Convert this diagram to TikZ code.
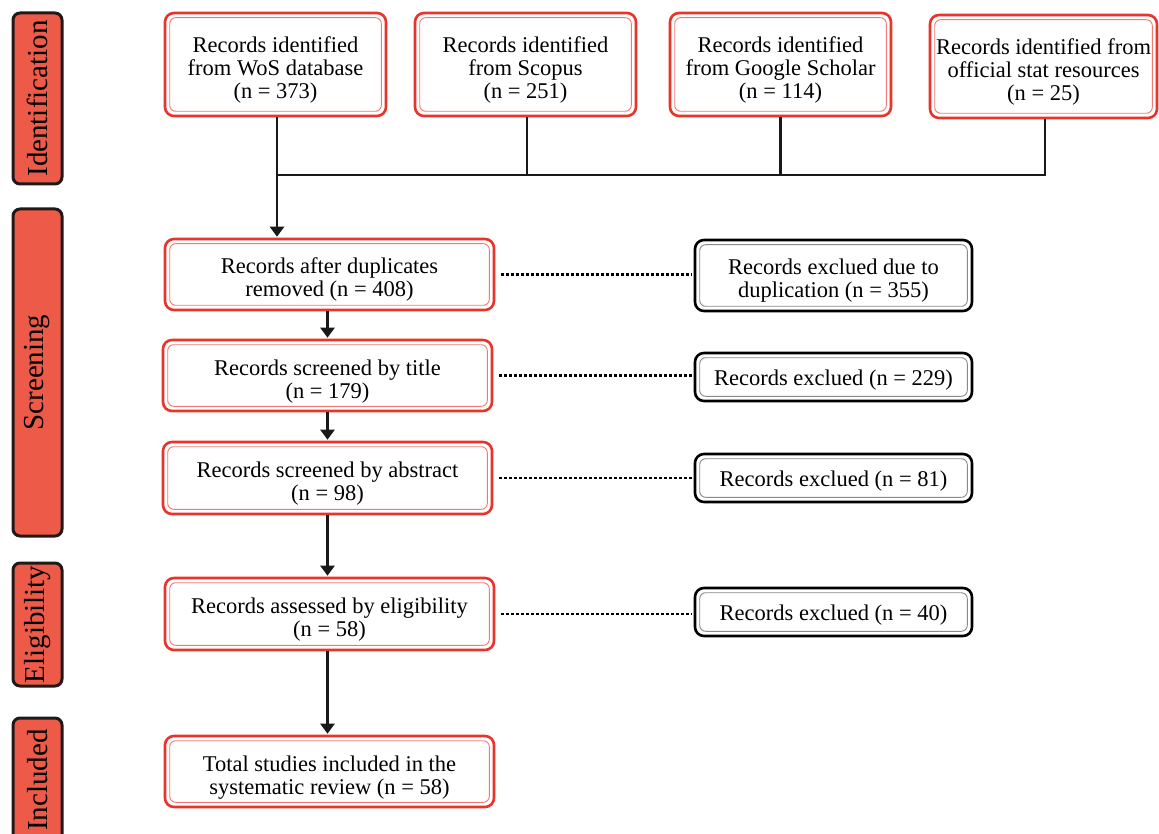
\documentclass[tikz,border=0pt]{standalone}
\usepackage{fontspec}
\setmainfont{Liberation Serif}
\usetikzlibrary{arrows.meta,calc}
\definecolor{boxred}{HTML}{E8352B}
\definecolor{innerred}{HTML}{F07A72}
\definecolor{phasefill}{HTML}{EE5A48}
\definecolor{phaseline}{HTML}{1E1A1A}
\definecolor{innergray}{HTML}{8A8A8A}
\tikzset{
  redbox/.style={draw=boxred, line width=2.6pt, rounded corners=9pt, fill=white, align=center,
    inner sep=0pt, font=\fontsize{22.5}{23}\selectfont},
  blackbox/.style={draw=black, line width=2.6pt, rounded corners=9pt, fill=white, align=center,
    inner sep=0pt, font=\fontsize{22.5}{23}\selectfont},
  oneline/.style={text height=21pt},
  twoline/.style={text height=45pt, text depth=0pt},
  threeline/.style={text height=67.5pt, text depth=0pt},
  phase/.style={draw=phaseline, line width=3pt, rounded corners=7pt, fill=phasefill, rotate=90,
    inner sep=0pt, minimum height=49pt, font=\fontsize{29}{30}\selectfont},
  redinner/.style={draw=innerred, line width=0.9pt, rounded corners=6pt},
  grayinner/.style={draw=innergray, line width=0.9pt, rounded corners=6pt},
  link/.style={draw=black!90, line width=2.8pt},
  arrowlink/.style={link, -{Triangle[length=10pt,width=14pt]}, shorten >=1pt},
  dots/.style={draw=black, line width=2.7pt, dash pattern=on 2.7pt off 2.3pt, shorten <=6pt, shorten >=2pt}
}
\begin{document}
\begin{tikzpicture}[x=1pt,y=1pt]
\useasboundingbox (0,0) rectangle (1159,-834);
% phase labels
\node[phase, minimum width=171pt] (pid) at (37.5,-98.5) {Identification};
\node[phase, minimum width=327pt] (psc) at (37.5,-372.5) {Screening};
\node[phase, minimum width=123pt] (pel) at (37.5,-624.5) {Eligibility};
\node[phase, minimum width=124pt] (pin) at (37.5,-780) {Included};
% identification boxes
\node[redbox, threeline, minimum width=221pt, minimum height=103pt] (wos) at (275.5,-64.5) {Records identified\\from WoS database\\(n = 373)};
\node[redbox, threeline, minimum width=221pt, minimum height=103pt] (sco) at (525.5,-64.5) {Records identified\\from Scopus\\(n = 251)};
\node[redbox, threeline, minimum width=221pt, minimum height=103pt] (gs) at (780.5,-64.5) {Records identified\\from Google Scholar\\(n = 114)};
\node[redbox, threeline, minimum width=227pt, minimum height=103pt] (off) at (1043.5,-66.5) {Records identified from\\official stat resources\\(n = 25)};
% main column
\node[redbox, twoline, minimum width=329pt, minimum height=71pt] (dup) at (329.5,-274.5) {Records after duplicates\\removed (n = 408)};
\node[redbox, twoline, minimum width=329pt, minimum height=71pt] (tit) at (327.5,-375.5) {Records screened by title\\(n = 179)};
\node[redbox, twoline, minimum width=329pt, minimum height=72pt] (abs) at (327.5,-478) {Records screened by abstract\\(n = 98)};
\node[redbox, twoline, minimum width=329pt, minimum height=72pt] (eli) at (329.5,-614) {Records assessed by eligibility\\(n = 58)};
\node[redbox, twoline, minimum width=329pt, minimum height=71pt] (tot) at (329.5,-771.5) {Total studies included in the\\systematic review (n = 58)};
% exclusion boxes
\node[blackbox, twoline, minimum width=277pt, minimum height=71pt] (ex1) at (833.5,-275.5) {Records exclued due to\\duplication (n = 355)};
\node[blackbox, oneline, minimum width=277pt, minimum height=48pt] (ex2) at (833.5,-377) {Records exclued (n = 229)};
\node[blackbox, oneline, minimum width=277pt, minimum height=48pt] (ex3) at (833.5,-478) {Records exclued (n = 81)};
\node[blackbox, oneline, minimum width=277pt, minimum height=48pt] (ex4) at (833.5,-612) {Records exclued (n = 40)};
% inner lines
\foreach \n in {wos,sco,gs,off,dup,tit,abs,eli,tot}
  \draw[redinner] ([xshift=6pt,yshift=-6pt]\n.north west) rectangle ([xshift=-6pt,yshift=6pt]\n.south east);
\foreach \n in {ex1,ex2,ex3,ex4}
  \draw[grayinner] ([xshift=6pt,yshift=-6pt]\n.north west) rectangle ([xshift=-6pt,yshift=6pt]\n.south east);
% connectors
\coordinate (j) at (0,-175);
\draw[link] ([xshift=1.5pt]wos.south) -- ([xshift=1.5pt]wos.south |- j) -| ([xshift=1.5pt]off.south);
\draw[link] ([xshift=1.5pt]sco.south) -- ([xshift=1.5pt]sco.south |- j);
\draw[link] (gs.south) -- (gs.south |- j);
\draw[arrowlink] ([xshift=1.5pt]wos.south |- j) -- ([xshift=1.5pt]wos.south |- dup.north);
\draw[arrowlink] (tit.north |- dup.south) -- (tit.north);
\draw[arrowlink] (abs.north |- tit.south) -- (abs.north);
\draw[arrowlink] (abs.south) -- (abs.south |- eli.north);
\draw[arrowlink] (abs.south |- eli.south) -- (abs.south |- tot.north);
% dotted
\draw[dots] (dup.east) -- (dup.east -| ex1.west);
\draw[dots] (tit.east) -- (tit.east -| ex2.west);
\draw[dots] (abs.east) -- (abs.east -| ex3.west);
\draw[dots] (eli.east) -- (eli.east -| ex4.west);
\end{tikzpicture}
\end{document}
